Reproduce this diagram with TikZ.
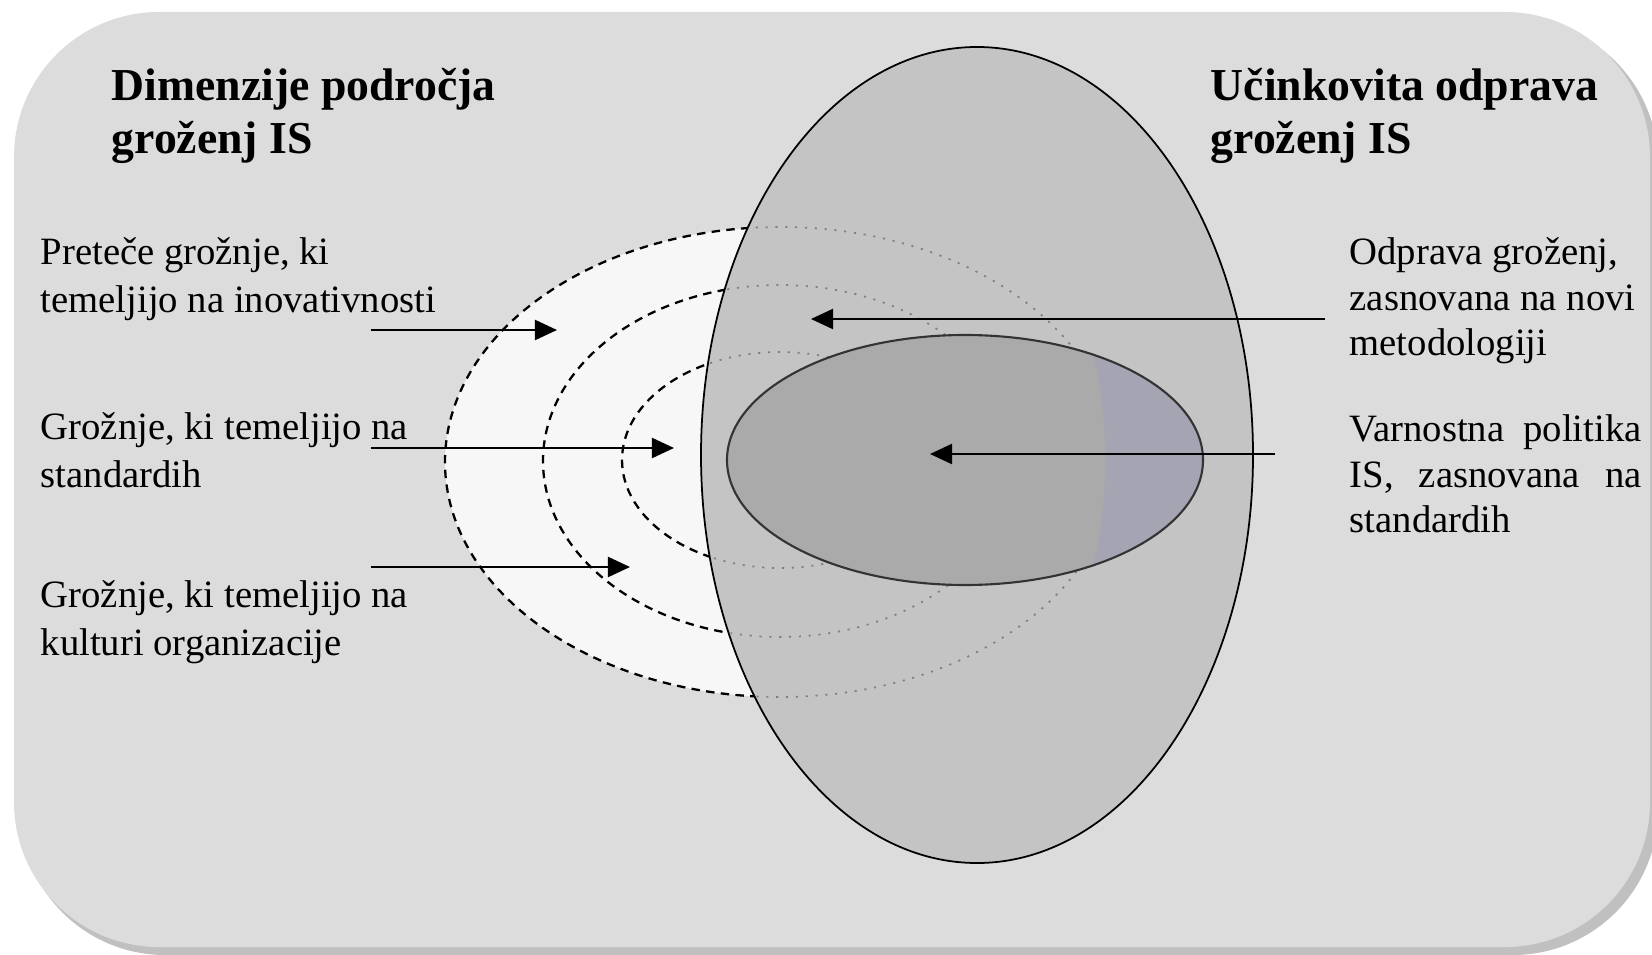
\documentclass[tikz,border=0pt]{standalone}
\usepackage{fontspec}
\setmainfont{Liberation Serif}
\usetikzlibrary{arrows.meta,positioning}

\definecolor{panel}{HTML}{DCDCDC}
\definecolor{panelshadow}{HTML}{C0C0C0}
\definecolor{threat}{HTML}{F7F7F7}
\definecolor{remedy}{HTML}{C4C4C4}
\definecolor{policy}{HTML}{AAAAAA}
\definecolor{policyblue}{HTML}{A4A4B2}

\begin{document}
\begin{tikzpicture}[x=0.01cm, y=-0.01cm,
    title/.style={font=\fontsize{13}{15}\selectfont\bfseries, align=left, anchor=west, inner sep=0pt},
    lbl/.style={font=\fontsize{11}{13.7}\selectfont, align=left, anchor=west, inner sep=0pt},
    rlbl/.style={font=\fontsize{11}{12.9}\selectfont, align=left, anchor=west, inner sep=0pt},
    arr/.style={-{Triangle[length=2.2mm, width=2mm]}, line width=0.6pt},
    ring/.style={line width=0.65pt, dash pattern=on 2.4pt off 1.8pt},
    ringin/.style={line width=0.5pt, black!50, dash pattern=on 0.6pt off 2.2pt}]

    \useasboundingbox (0,0) rectangle (1652,955);

    \fill[panelshadow, rounded corners=1.45cm] (20,19) rectangle (1658,955);
    \fill[panel, rounded corners=1.45cm] (14,12) rectangle (1650,947);

    \fill[threat] (780,462) ellipse [x radius=335, y radius=235];
    \draw[ring] (780,462) ellipse [x radius=335, y radius=235];
    \draw[ring] (780,461) ellipse [x radius=237, y radius=176];
    \draw[ring] (780,460) ellipse [x radius=158, y radius=108];

    \draw[fill=remedy, line width=0.5pt] (977,455) ellipse [x radius=276, y radius=408];
    \begin{scope}
        \clip (977,455) ellipse [x radius=274, y radius=406];
        \draw[ringin] (780,462) ellipse [x radius=335, y radius=235];
        \draw[ringin] (780,461) ellipse [x radius=237, y radius=176];
        \draw[ringin] (780,460) ellipse [x radius=158, y radius=108];
    \end{scope}

    \fill[policy] (965,460) ellipse [x radius=238, y radius=125];
    \begin{scope}
        \clip (965,460) ellipse [x radius=238, y radius=125];
        \fill[policyblue] (1085,330) .. controls (1112,400) and (1112,520) .. (1085,590) -- (1210,590) -- (1210,330) -- cycle;
    \end{scope}
    \draw[line width=0.6pt, black!80] (965,460) ellipse [x radius=238, y radius=125];

    \node[title] (dimtitle) at (111,116) {Dimenzije področja\\groženj IS};
    \node[title] (remtitle) at (1210,116) {Učinkovita odprava\\groženj IS};

    \node[lbl] (innov) at (40,279) {Preteče grožnje, ki\\temeljijo na inovativnosti};
    \node[lbl] (stand) at (40,450) {Grožnje, ki temeljijo na\\standardih};
    \node[lbl] (cult) at (40,622) {Grožnje, ki temeljijo na\\kulturi organizacije};

    \node[rlbl] (method) at (1349,301) {Odprava groženj,\\zasnovana na novi\\metodologiji};
    \node[rlbl, text width=83pt, align=justify] (secpol) at (1349,474) {Varnostna politika IS, zasnovana na standardih};

    \coordinate (innovtail) at (371,330);
    \coordinate (innovtip) at (557,330);
    \coordinate (standtail) at (371,448);
    \coordinate (standtip) at (674,448);
    \coordinate (culttail) at (371,567);
    \coordinate (culttip) at (630,567);
    \coordinate (methodtail) at (1325,319);
    \coordinate (methodtip) at (811,319);
    \coordinate (secpoltail) at (1275,454);
    \coordinate (secpoltip) at (930,454);

    \draw[arr] (innovtail) -- (innovtip);
    \draw[arr] (standtail) -- (standtip);
    \draw[arr] (culttail) -- (culttip);
    \draw[arr] (methodtail) -- (methodtip);
    \draw[arr] (secpoltail) -- (secpoltip);
\end{tikzpicture}
\end{document}
